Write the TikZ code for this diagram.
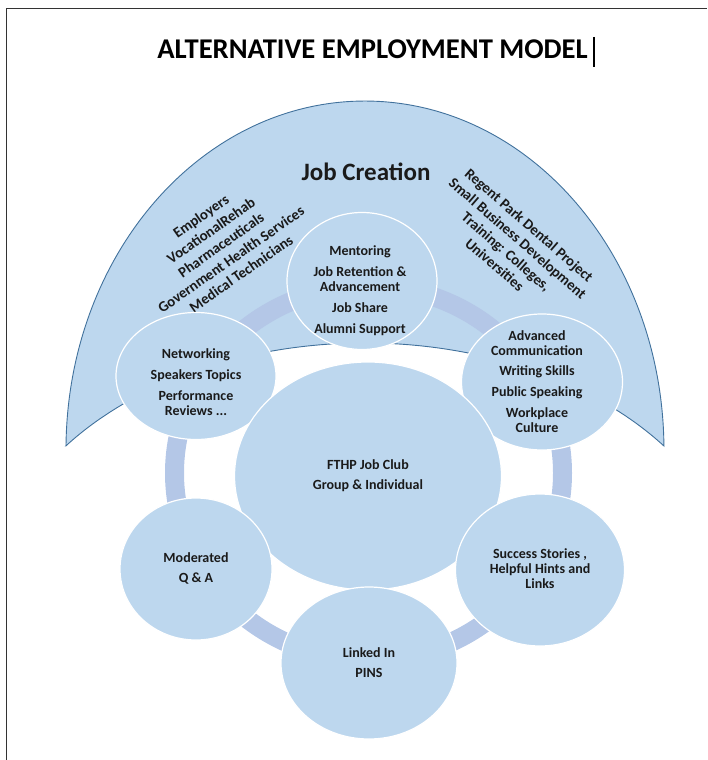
\documentclass[tikz,border=0pt]{standalone}
\usepackage{fontspec}
\setmainfont{Carlito}
\usetikzlibrary{shapes.geometric}
\definecolor{bubblefill}{HTML}{BDD7EE}
\definecolor{ringblue}{HTML}{B4C7E7}
\definecolor{arcline}{HTML}{41719C}
\definecolor{inktext}{HTML}{1A1A1A}
\begin{document}
\begin{tikzpicture}[x=1pt,y=-1pt,
  bubble/.style={ellipse, fill=bubblefill, draw=white, line width=1.2pt, inner sep=0pt},
  bubbletext/.style={align=center, font=\bfseries\fontsize{14}{15}\selectfont, text=inktext, inner sep=0pt},
  slanttext/.style={align=center, font=\bfseries\fontsize{14.8}{17.5}\selectfont, text=inktext, inner sep=0pt},
  heading/.style={font=\bfseries\fontsize{28.6}{32}\selectfont, text=black, inner sep=0pt, anchor=base},
]
\useasboundingbox (0,0) rectangle (707,760);

% page frame
\draw[line width=1pt, black!80] (6.5,760) -- (6.5,8.5) -- (707,8.5);

% heading and text cursor
\node[heading] (title) at (372.5,59) {ALTERNATIVE EMPLOYMENT MODEL};
\coordinate (cursortop) at (594,37);
\coordinate (cursorbot) at (594,67);
\draw[line width=1.3pt] (cursortop) -- (cursorbot);

% the job creation block arc
\path[fill=bubblefill, draw=arcline, line width=0.9pt]
  (66,446) arc[start angle=180.66, end angle=359.34, x radius=299, y radius=349]
  arc[start angle=323.2, end angle=216.8, x radius=373.5, y radius=257] -- cycle;

\node[font=\bfseries\fontsize{25}{28}\selectfont, text=inktext, anchor=base, inner sep=0pt] (jobcreation) at (366,180) {Job Creation};

\node[slanttext, rotate=35] (partners) at (221,245)
  {Employers\\VocationalRehab\\Pharmaceuticals\\Government Health Services\\Medical Technicians};
\node[slanttext, rotate=-41] (projects) at (512,245)
  {Regent Park Dental Project\\Small Business Development\\Training: Colleges,\\Universities};

% ring joining the circles
\draw[ringblue, line width=19pt] (368.5,473) ellipse[x radius=194, y radius=187];

% circles
\node[bubble, minimum width=150pt, minimum height=137pt] (mentor) at (362,281) {};
\node[bubble, minimum width=160pt, minimum height=127pt] (network) at (196,376) {};
\node[bubble, minimum width=161pt, minimum height=136pt] (advanced) at (542,382) {};
\node[bubble, minimum width=267pt, minimum height=228pt] (club) at (368,476) {};
\node[bubble, minimum width=152pt, minimum height=142pt] (moderated) at (196,569) {};
\node[bubble, minimum width=169pt, minimum height=152pt] (success) at (540,570) {};
\node[bubble, minimum width=176pt, minimum height=152pt] (linked) at (369,663) {};

% circle texts
\node[bubbletext] (mentortext) at (360,291)
  {Mentoring\\[6pt]Job Retention \&\\Advancement\\[6pt]Job Share\\[6pt]Alumni Support};
\node[bubbletext] (networktext) at (196,382)
  {Networking\\[6pt]Speakers Topics\\[6pt]Performance\\Reviews ...};
\node[bubbletext] (advancedtext) at (537,382)
  {Advanced\\Communication\\[5pt]Writing Skills\\[6pt]Public Speaking\\[6pt]Workplace\\Culture};
\node[bubbletext] (clubtext) at (368,476)
  {FTHP Job Club\\[5pt]Group \& Individual};
\node[bubbletext] (moderatedtext) at (196,568)
  {Moderated\\[5pt]Q \& A};
\node[bubbletext] (successtext) at (540,568.5)
  {Success Stories ,\\Helpful Hints and\\Links};
\node[bubbletext] (linkedtext) at (369,662.5)
  {Linked In\\[5pt]PINS};
\end{tikzpicture}
\end{document}
